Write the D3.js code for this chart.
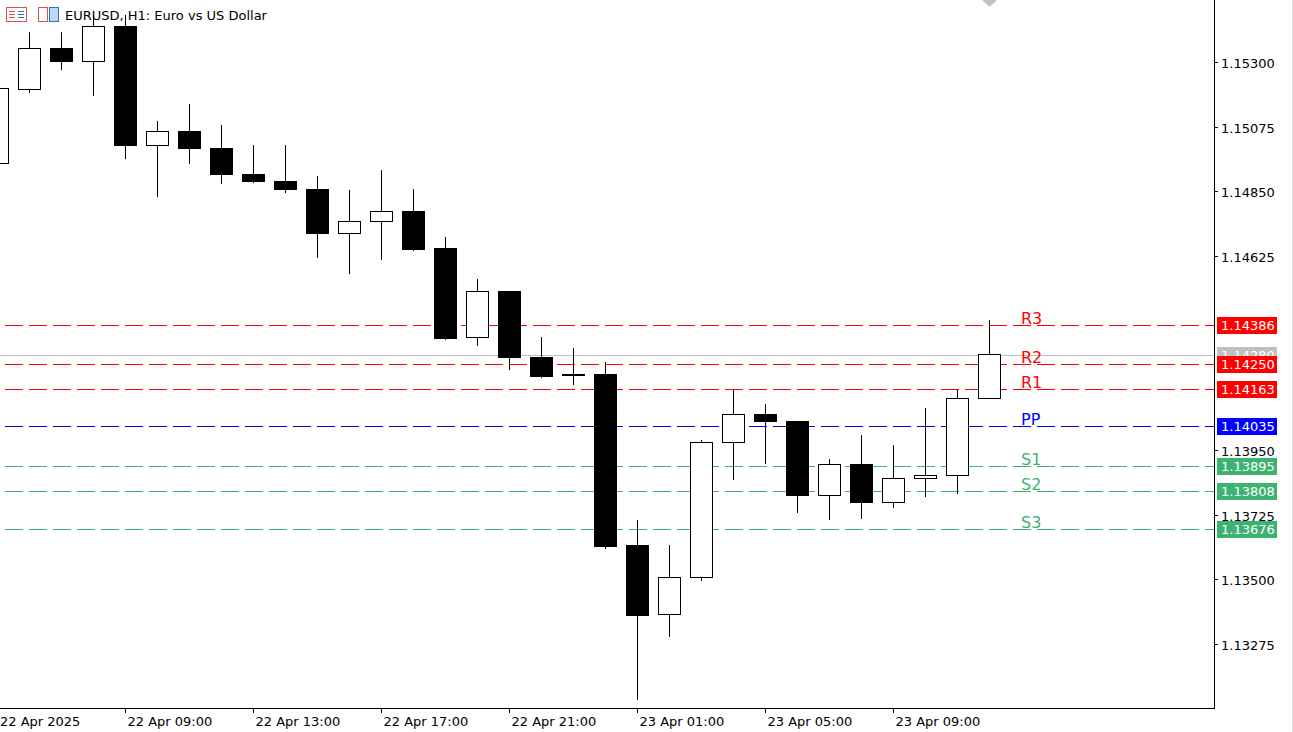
<!DOCTYPE html>
<html><head><meta charset="utf-8">
<script src="https://cdn.jsdelivr.net/npm/d3@7"></script>
<style>body{margin:0;background:#fff;}svg{display:block;font-family:Tahoma,"DejaVu Sans",sans-serif;}</style>
</head><body><svg id="c" width="1293" height="732"></svg>
<script>
const times=["22 Apr 05:00","22 Apr 06:00","22 Apr 07:00","22 Apr 08:00","22 Apr 09:00","22 Apr 10:00","22 Apr 11:00","22 Apr 12:00","22 Apr 13:00","22 Apr 14:00","22 Apr 15:00","22 Apr 16:00","22 Apr 17:00","22 Apr 18:00","22 Apr 19:00","22 Apr 20:00","22 Apr 21:00","22 Apr 22:00","22 Apr 23:00","23 Apr 00:00","23 Apr 01:00","23 Apr 02:00","23 Apr 03:00","23 Apr 04:00","23 Apr 05:00","23 Apr 06:00","23 Apr 07:00","23 Apr 08:00","23 Apr 09:00","23 Apr 10:00","23 Apr 11:00","23 Apr 12:00"];
const open =[1.14949,1.15206,1.15349,1.15303,1.15425,1.15011,1.15060,1.15001,1.14910,1.14886,1.14858,1.14705,1.14747,1.14782,1.14653,1.14343,1.14503,1.14273,1.14211,1.14214,1.13619,1.13379,1.13508,1.13978,1.14075,1.14051,1.13793,1.13901,1.13769,1.13852,1.13863,1.14131];
const high =[1.15237,1.15404,1.15404,1.15464,1.15464,1.15095,1.15154,1.15081,1.15011,1.15011,1.14903,1.14855,1.14924,1.14858,1.14691,1.14545,1.14503,1.14343,1.14305,1.14256,1.13706,1.13619,1.13985,1.14159,1.14110,1.14051,1.13918,1.14002,1.13967,1.14096,1.14159,1.14402];
const low  =[1.14924,1.15192,1.15272,1.15182,1.14962,1.14830,1.14945,1.14876,1.14879,1.14844,1.14618,1.14562,1.14611,1.14642,1.14333,1.14312,1.14228,1.14200,1.14176,1.13605,1.13080,1.13299,1.13494,1.13845,1.13901,1.13731,1.13706,1.13710,1.13748,1.13786,1.13797,1.14131];
const close=[1.15210,1.15349,1.15303,1.15425,1.15011,1.15060,1.15001,1.14910,1.14886,1.14858,1.14705,1.14747,1.14782,1.14649,1.14340,1.14503,1.14273,1.14207,1.14214,1.13616,1.13376,1.13508,1.13978,1.14075,1.14051,1.13793,1.13901,1.13769,1.13852,1.13863,1.14131,1.14284];
const yTicks=[1.15300,1.15075,1.14850,1.14625,1.13950,1.13725,1.13500,1.13275];
const xLabels=[[0,"22 Apr 2025"],[4,"22 Apr 09:00"],[8,"22 Apr 13:00"],[12,"22 Apr 17:00"],[16,"22 Apr 21:00"],[20,"23 Apr 01:00"],[24,"23 Apr 05:00"],[28,"23 Apr 09:00"]];
const levelNames=["R3","R2","R1","PP","S1","S2","S3"];
const levelValues=[1.14386,1.14250,1.14163,1.14035,1.13895,1.13808,1.13676];
const levelColors=["#ff0000","#ff0000","#ff0000","#0000ff","#3cb371","#3cb371","#3cb371"];
const bid=1.14280;

const svg=d3.select("#c");
const axX=1214, axY=708;
const y=d3.scaleLinear().domain([1.13052,1.15516]).range([708,0]);
const x=d3.scaleLinear().domain([0,31]).range([-3,989]);
const fmt=d3.format(".5f");
const bw=22;
const plot=svg.append("g");
// bid line
plot.append("line").attr("x1",0).attr("x2",axX).attr("y1",Math.round(y(bid))+0.5).attr("y2",Math.round(y(bid))+0.5).attr("stroke","#c0c0c0");
// levels
levelValues.forEach((v,i)=>{
  const yy=Math.round(y(v))+0.5;
  plot.append("line").attr("x1",5).attr("x2",axX).attr("y1",yy).attr("y2",yy).attr("stroke",levelColors[i]).attr("stroke-dasharray","18,6");
});
// candles
const g=plot.append("g");
times.forEach((t,i)=>{
  const cx=Math.round(x(i))+0.5;
  g.append("line").attr("x1",cx).attr("x2",cx).attr("y1",y(high[i])).attr("y2",y(low[i])).attr("stroke","#000");
  const top=Math.round(y(Math.max(open[i],close[i]))), bot=Math.round(y(Math.min(open[i],close[i])));
  const bull=close[i]>=open[i];
  g.append("rect").attr("x",Math.round(x(i))-bw/2+0.5).attr("y",top+0.5).attr("width",bw).attr("height",Math.max(bot-top,0))
   .attr("fill",bull?"#fff":"#000").attr("stroke","#000");
});
// level text labels
levelValues.forEach((v,i)=>{
  svg.append("text").attr("x",1021).attr("y",y(v)-1).text(levelNames[i]).attr("fill",levelColors[i]).attr("font-size",16).attr("font-family","DejaVu Sans, sans-serif");
});
// axes
svg.append("line").attr("x1",axX+0.5).attr("x2",axX+0.5).attr("y1",0).attr("y2",axY).attr("stroke","#000");
svg.append("line").attr("x1",0).attr("x2",axX+1).attr("y1",axY+0.5).attr("y2",axY+0.5).attr("stroke","#000");
svg.append("line").attr("x1",1292.5).attr("x2",1292.5).attr("y1",0).attr("y2",732).attr("stroke","#e0e0e0");
yTicks.forEach(v=>{
  const yy=Math.round(y(v))+0.5;
  svg.append("line").attr("x1",axX).attr("x2",axX+4).attr("y1",yy).attr("y2",yy).attr("stroke","#000");
  svg.append("text").attr("x",axX+7).attr("y",yy+5).text(fmt(v)).attr("font-size",13).attr("fill","#000");
});
xLabels.forEach(([i,l])=>{
  const xx=Math.round(x(i))+0.5;
  svg.append("line").attr("x1",xx).attr("x2",xx).attr("y1",axY).attr("y2",axY+5).attr("stroke","#000");
  svg.append("text").attr("x",Math.max(xx+2,0)).attr("y",726).text(l).attr("font-size",13).attr("fill","#000");
});
// price boxes
function box(v,col){
  const yy=Math.round(y(v));
  svg.append("rect").attr("x",1217).attr("y",yy-8).attr("width",60).attr("height",17).attr("fill",col);
  svg.append("text").attr("x",1221).attr("y",yy+5).text(fmt(v)).attr("font-size",13).attr("fill","#fff");
}
box(bid,"#c0c0c0");
levelValues.forEach((v,i)=>box(v,levelColors[i]));
// gray marker
svg.append("path").attr("d","M982,0 L997,0 L989.5,7 Z").attr("fill","#c0c0c0");
// title
const t=svg.append("g");
t.append("rect").attr("x",6.5).attr("y",7.5).attr("width",20).attr("height",14).attr("fill","#fff").attr("stroke","#e05050");
[11,14,17].forEach(yy=>{t.append("line").attr("x1",9).attr("x2",15).attr("y1",yy+.5).attr("y2",yy+.5).attr("stroke","#e05050");t.append("line").attr("x1",18).attr("x2",24).attr("y1",yy+.5).attr("y2",yy+.5).attr("stroke","#3070c0");});
t.append("rect").attr("x",38.5).attr("y",7.5).attr("width",9).attr("height",14).attr("fill","#fff").attr("stroke","#e05050");
t.append("rect").attr("x",49.5).attr("y",7.5).attr("width",9).attr("height",14).attr("fill","#bcd8f0").attr("stroke","#3070c0");
svg.append("text").attr("x",65).attr("y",20).text("EURUSD, H1:  Euro vs US Dollar").attr("font-size",13).attr("fill","#000");
</script></body></html>
